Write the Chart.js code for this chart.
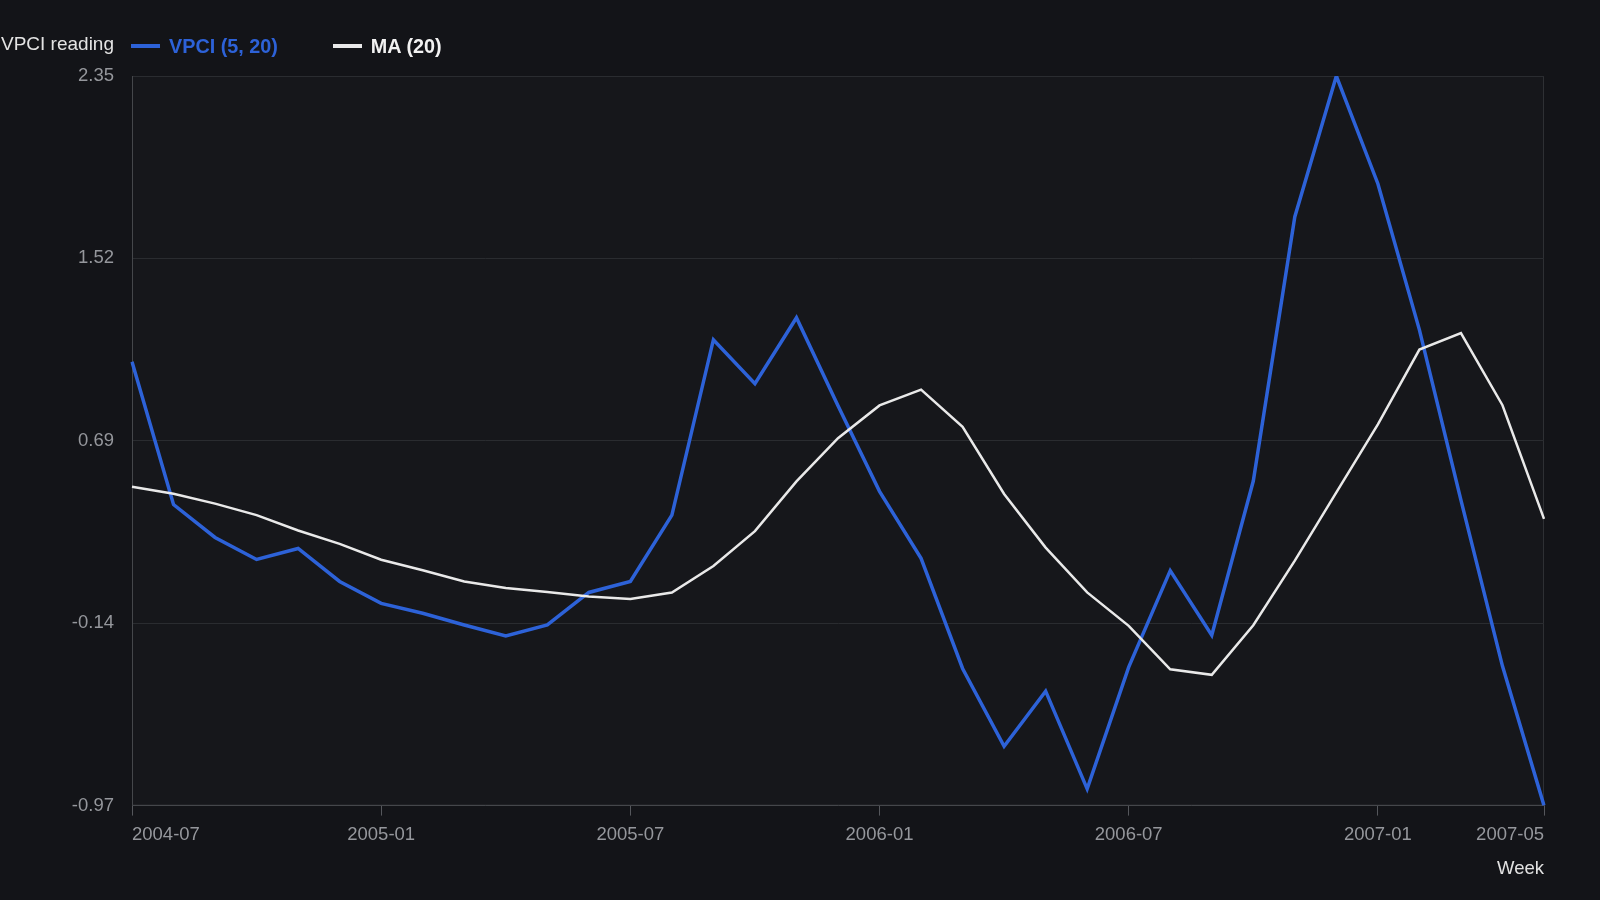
<!DOCTYPE html>
<html>
<head>
<meta charset="utf-8">
<title>VPCI (5, 20) vs MA (20)</title>
<script src="https://cdn.jsdelivr.net/npm/chart.js@4.4.1/dist/chart.umd.min.js"></script>
<style>
    html, body { margin: 0; padding: 0; background: #131418; }
    body {
        width: 1600px;
        height: 900px;
        position: relative;
        overflow: hidden;
        font-family: 'Liberation Sans', Arial, Helvetica, sans-serif;
    }
    #legend {
        position: absolute;
        left: 1px;
        top: 33px;
        height: 26px;
        display: flex;
        align-items: center;
        font-size: 19px;
        z-index: 2;
    }
    #legend .title { color: #e4e4e4; margin-right: 17px; position: relative; top: -2px; }
    #legend .item { display: flex; align-items: center; font-weight: bold; font-size: 19.8px; margin-right: 55px; }
    #legend .bar { width: 29px; height: 4px; margin-right: 9px; }
    #chart { position: absolute; left: 0; top: 0; }
</style>
</head>
<body>
<div id="legend"><span class="title">VPCI reading</span></div>
<canvas id="chart" width="1600" height="900"></canvas>
<script>
// Meses (eje X)
const labels = [
    '2004-07', '2004-08', '2004-09', '2004-10', '2004-11', '2004-12',
    '2005-01', '2005-02', '2005-03', '2005-04', '2005-05', '2005-06',
    '2005-07', '2005-08', '2005-09', '2005-10', '2005-11', '2005-12',
    '2006-01', '2006-02', '2006-03', '2006-04', '2006-05', '2006-06',
    '2006-07', '2006-08', '2006-09', '2006-10', '2006-11', '2006-12',
    '2007-01', '2007-02', '2007-03', '2007-04', '2007-05'
];

// VPCI (5, 20)
const vpci = [
    1.05, 0.40, 0.25, 0.15, 0.20, 0.05,
    -0.05, -0.095, -0.148, -0.198, -0.148, 0.0,
    0.05, 0.352, 1.15, 0.95, 1.25, 0.85,
    0.46, 0.155, -0.346, -0.70, -0.449, -0.894,
    -0.34, 0.099, -0.195, 0.507, 1.71, 2.35,
    1.86, 1.195, 0.42, -0.335, -0.97
];

// MA (20)
const ma = [
    0.481, 0.449, 0.404, 0.352, 0.282, 0.221,
    0.149, 0.101, 0.050, 0.020, 0.002, -0.018,
    -0.030, 0.0, 0.12, 0.279, 0.505, 0.702,
    0.851, 0.923, 0.754, 0.448, 0.204, 0.0,
    -0.152, -0.35, -0.375, -0.149, 0.145, 0.455,
    0.765, 1.105, 1.18, 0.852, 0.335
];

// Etiquetas visibles
const xTickLabels = ['2004-07', '2005-01', '2005-07', '2006-01', '2006-07', '2007-01', '2007-05'];
const yTicks = [-0.97, -0.14, 0.69, 1.52, 2.35];

const blue = '#2d62d8';
const white = '#e9e9e9';
const tickColor = '#95979c';
const fontFamily = "'Liberation Sans', Arial, Helvetica, sans-serif";

// Fondo del area del grafico
const plotBackground = {
    id: 'plotBackground',
    beforeDraw(chart) {
        const { ctx, chartArea: a } = chart;
        ctx.save();
        ctx.fillStyle = '#16171b';
        ctx.fillRect(a.left, a.top, a.right - a.left, a.bottom - a.top);
        ctx.strokeStyle = '#2e3034';
        ctx.lineWidth = 1;
        ctx.strokeRect(a.left + 0.5, a.top + 0.5, a.right - a.left - 1, a.bottom - a.top - 1);
        ctx.restore();
    }
};

function crearLeyenda(chart) {
    const box = document.getElementById('legend');
    chart.data.datasets.forEach(ds => {
        const item = document.createElement('span');
        item.className = 'item';
        item.style.color = ds.legendColor;
        const bar = document.createElement('span');
        bar.className = 'bar';
        bar.style.background = ds.borderColor;
        item.appendChild(bar);
        item.appendChild(document.createTextNode(ds.label));
        box.appendChild(item);
    });
}

const ctx = document.getElementById('chart').getContext('2d');
const myChart = new Chart(ctx, {
    type: 'line',
    data: {
        labels: labels,
        datasets: [
            {
                label: 'VPCI (5, 20)',
                data: vpci,
                borderColor: blue,
                backgroundColor: blue,
                legendColor: blue,
                borderWidth: 3.5,
                pointRadius: 0,
                tension: 0,
                order: 1
            },
            {
                label: 'MA (20)',
                data: ma,
                borderColor: white,
                backgroundColor: white,
                legendColor: '#f2f2f2',
                borderWidth: 2.5,
                pointRadius: 0,
                tension: 0,
                order: 0
            }
        ]
    },
    options: {
        responsive: false,
        animation: false,
        layout: {
            padding: { top: 76, right: 56, bottom: 20, left: 0 }
        },
        plugins: {
            legend: { display: false },
            tooltip: { enabled: false }
        },
        scales: {
            x: {
                type: 'category',
                offset: false,
                afterBuildTicks: scale => {
                    scale.ticks = scale.ticks.filter(t => xTickLabels.includes(labels[t.value]));
                },
                grid: {
                    drawOnChartArea: false,
                    drawTicks: true,
                    tickLength: 10,
                    color: '#55575c'
                },
                border: { color: '#45474b' },
                ticks: {
                    autoSkip: false,
                    maxRotation: 0,
                    align: 'inner',
                    color: tickColor,
                    padding: 8,
                    font: { family: fontFamily, size: 18.5 }
                },
                title: {
                    display: true,
                    text: 'Week',
                    align: 'end',
                    color: '#e2e2e2',
                    padding: { top: 4, bottom: 0 },
                    font: { family: fontFamily, size: 18.5 }
                }
            },
            y: {
                min: -0.97,
                max: 2.35,
                afterBuildTicks: scale => {
                    scale.ticks = yTicks.map(v => ({ value: v }));
                },
                afterFit: scale => {
                    scale.width = 132;
                },
                grid: {
                    color: '#2a2c30',
                    drawTicks: false
                },
                border: { color: '#45474b' },
                ticks: {
                    color: tickColor,
                    padding: 18,
                    font: { family: fontFamily, size: 18.5 },
                    callback: value => Number(value).toFixed(2)
                }
            }
        }
    },
    plugins: [plotBackground]
});

crearLeyenda(myChart);
</script>
</body>
</html>
